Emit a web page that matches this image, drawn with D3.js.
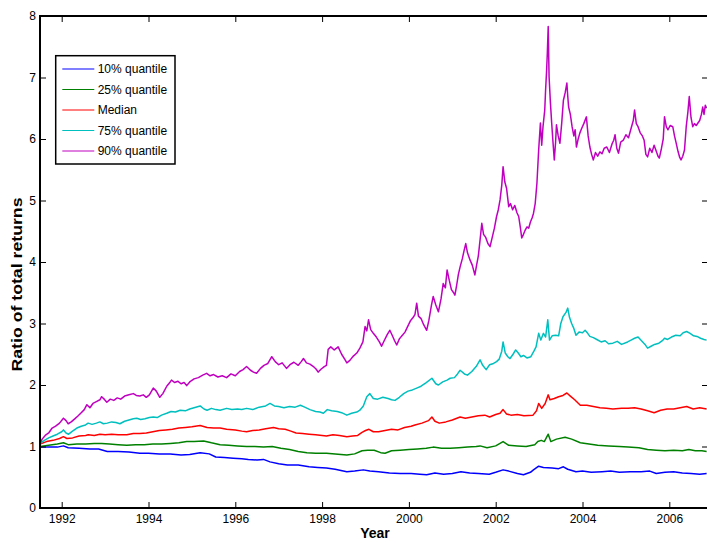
<!DOCTYPE html>
<html><head><meta charset="utf-8">
<script src="https://cdn.jsdelivr.net/npm/d3@7"></script>
<style>
html,body{margin:0;padding:0;background:#fff;}
svg{display:block;font-family:"Liberation Sans",Arial,Helvetica,sans-serif;}
</style></head>
<body>
<svg id="chart" width="707" height="543"></svg>
<script>
const seriesNames = ["10% quantile","25% quantile","Median","75% quantile","90% quantile"];
const seriesColors = ["#0000ff","#008000","#ff0000","#00bfbf","#bf00bf"];
const xTicks = [1992,1994,1996,1998,2000,2002,2004,2006];
const yTicks = [0,1,2,3,4,5,6,7,8];

const q10 = [[1991.50,0.99],[1991.70,0.99],[1991.90,0.99],[1992.04,1.01],[1992.15,0.98],[1992.40,0.97],[1992.65,0.96],[1992.85,0.96],[1992.95,0.94],[1993.05,0.92],[1993.30,0.92],[1993.55,0.91],[1993.80,0.89],[1994.00,0.89],[1994.25,0.88],[1994.50,0.88],[1994.75,0.86],[1994.95,0.87],[1995.19,0.90],[1995.40,0.88],[1995.55,0.83],[1995.75,0.82],[1995.95,0.81],[1996.15,0.80],[1996.30,0.79],[1996.50,0.78],[1996.65,0.79],[1996.80,0.75],[1997.00,0.72],[1997.20,0.70],[1997.45,0.70],[1997.70,0.67],[1997.90,0.66],[1998.10,0.65],[1998.30,0.63],[1998.57,0.59],[1998.75,0.60],[1998.95,0.62],[1999.10,0.60],[1999.30,0.59],[1999.55,0.57],[1999.80,0.56],[2000.05,0.56],[2000.25,0.55],[2000.41,0.54],[2000.60,0.57],[2000.80,0.55],[2001.00,0.56],[2001.20,0.59],[2001.40,0.57],[2001.60,0.56],[2001.85,0.55],[2002.00,0.58],[2002.17,0.62],[2002.30,0.60],[2002.50,0.56],[2002.64,0.54],[2002.80,0.58],[2002.87,0.62],[2002.99,0.68],[2003.10,0.66],[2003.30,0.65],[2003.45,0.64],[2003.56,0.67],[2003.66,0.63],[2003.85,0.59],[2004.00,0.60],[2004.20,0.58],[2004.45,0.59],[2004.65,0.60],[2004.85,0.58],[2005.10,0.59],[2005.35,0.59],[2005.55,0.60],[2005.70,0.56],[2005.90,0.58],[2006.10,0.59],[2006.30,0.57],[2006.50,0.56],[2006.70,0.55],[2006.86,0.56]];

const q25 = [[1991.50,1.00],[1991.70,1.02],[1991.90,1.04],[1992.04,1.06],[1992.15,1.03],[1992.35,1.04],[1992.55,1.04],[1992.75,1.05],[1992.92,1.05],[1993.10,1.04],[1993.30,1.03],[1993.50,1.02],[1993.70,1.03],[1993.90,1.03],[1994.10,1.04],[1994.30,1.04],[1994.50,1.05],[1994.70,1.06],[1994.88,1.08],[1995.05,1.08],[1995.27,1.09],[1995.45,1.06],[1995.65,1.03],[1995.85,1.02],[1996.05,1.01],[1996.26,1.00],[1996.45,1.00],[1996.65,0.99],[1996.85,1.00],[1997.05,0.97],[1997.25,0.95],[1997.45,0.92],[1997.65,0.90],[1997.85,0.89],[1998.10,0.89],[1998.30,0.88],[1998.57,0.86],[1998.75,0.88],[1998.92,0.93],[1999.05,0.94],[1999.20,0.94],[1999.35,0.90],[1999.45,0.89],[1999.60,0.93],[1999.80,0.94],[2000.00,0.95],[2000.20,0.96],[2000.40,0.97],[2000.56,0.99],[2000.75,0.97],[2000.95,0.97],[2001.15,0.98],[2001.35,0.99],[2001.55,1.00],[2001.64,1.01],[2001.80,0.98],[2002.00,1.01],[2002.17,1.08],[2002.30,1.02],[2002.50,1.01],[2002.70,1.00],[2002.90,1.03],[2002.97,1.08],[2003.05,1.10],[2003.12,1.08],[2003.21,1.20],[2003.27,1.08],[2003.40,1.12],[2003.60,1.15],[2003.75,1.12],[2003.95,1.06],[2004.15,1.04],[2004.35,1.02],[2004.60,1.01],[2004.85,1.00],[2005.05,0.99],[2005.30,0.98],[2005.50,0.95],[2005.70,0.94],[2005.90,0.93],[2006.10,0.94],[2006.30,0.93],[2006.45,0.95],[2006.60,0.93],[2006.75,0.93],[2006.86,0.92]];

const q50 = [[1991.50,1.04],[1991.65,1.08],[1991.80,1.10],[1991.95,1.13],[1992.04,1.16],[1992.12,1.13],[1992.25,1.14],[1992.40,1.17],[1992.55,1.18],[1992.61,1.19],[1992.75,1.18],[1992.88,1.20],[1993.00,1.19],[1993.15,1.20],[1993.30,1.19],[1993.50,1.19],[1993.65,1.21],[1993.80,1.21],[1993.95,1.22],[1994.10,1.24],[1994.25,1.26],[1994.40,1.27],[1994.55,1.28],[1994.70,1.30],[1994.85,1.31],[1995.00,1.32],[1995.19,1.34],[1995.35,1.31],[1995.50,1.30],[1995.65,1.30],[1995.80,1.28],[1996.00,1.27],[1996.15,1.25],[1996.26,1.24],[1996.40,1.26],[1996.55,1.27],[1996.70,1.29],[1996.88,1.31],[1997.00,1.29],[1997.15,1.28],[1997.28,1.25],[1997.40,1.22],[1997.55,1.21],[1997.70,1.20],[1997.85,1.19],[1998.00,1.18],[1998.10,1.17],[1998.25,1.19],[1998.40,1.18],[1998.57,1.16],[1998.70,1.17],[1998.82,1.18],[1998.92,1.23],[1999.00,1.26],[1999.08,1.28],[1999.18,1.24],[1999.30,1.24],[1999.45,1.26],[1999.60,1.28],[1999.75,1.27],[1999.90,1.31],[2000.05,1.33],[2000.14,1.35],[2000.30,1.38],[2000.45,1.42],[2000.53,1.48],[2000.60,1.41],[2000.70,1.38],[2000.85,1.40],[2001.00,1.43],[2001.18,1.48],[2001.30,1.46],[2001.45,1.48],[2001.60,1.50],[2001.75,1.51],[2001.86,1.48],[2002.00,1.52],[2002.10,1.54],[2002.17,1.60],[2002.25,1.53],[2002.35,1.51],[2002.50,1.52],[2002.65,1.50],[2002.86,1.51],[2002.94,1.58],[2002.99,1.70],[2003.06,1.62],[2003.14,1.70],[2003.21,1.84],[2003.25,1.76],[2003.35,1.78],[2003.45,1.81],[2003.55,1.83],[2003.64,1.87],[2003.72,1.82],[2003.82,1.76],[2003.95,1.67],[2004.10,1.67],[2004.25,1.65],[2004.40,1.63],[2004.55,1.62],[2004.70,1.61],[2004.90,1.62],[2005.05,1.62],[2005.20,1.63],[2005.35,1.61],[2005.50,1.58],[2005.65,1.55],[2005.80,1.59],[2005.95,1.61],[2006.10,1.61],[2006.25,1.63],[2006.40,1.65],[2006.55,1.61],[2006.70,1.63],[2006.86,1.61]];

const q75 = [[1991.50,1.05],[1991.60,1.10],[1991.70,1.14],[1991.80,1.17],[1991.90,1.20],[1992.00,1.24],[1992.04,1.27],[1992.10,1.22],[1992.16,1.20],[1992.25,1.25],[1992.35,1.30],[1992.45,1.33],[1992.55,1.35],[1992.61,1.38],[1992.70,1.36],[1992.80,1.38],[1992.88,1.40],[1992.96,1.37],[1993.05,1.38],[1993.15,1.40],[1993.25,1.39],[1993.34,1.37],[1993.45,1.41],[1993.55,1.43],[1993.65,1.45],[1993.73,1.46],[1993.82,1.44],[1993.92,1.45],[1994.02,1.47],[1994.11,1.48],[1994.20,1.47],[1994.30,1.51],[1994.42,1.54],[1994.52,1.57],[1994.62,1.56],[1994.73,1.59],[1994.85,1.58],[1994.95,1.61],[1995.05,1.63],[1995.19,1.66],[1995.28,1.61],[1995.35,1.59],[1995.45,1.62],[1995.55,1.60],[1995.65,1.59],[1995.80,1.62],[1995.92,1.60],[1996.05,1.61],[1996.15,1.60],[1996.26,1.62],[1996.40,1.60],[1996.55,1.64],[1996.70,1.66],[1996.80,1.70],[1996.90,1.66],[1997.00,1.65],[1997.12,1.63],[1997.25,1.65],[1997.38,1.64],[1997.50,1.67],[1997.60,1.64],[1997.72,1.60],[1997.85,1.57],[1997.95,1.56],[1998.03,1.54],[1998.12,1.60],[1998.22,1.58],[1998.35,1.57],[1998.45,1.55],[1998.57,1.51],[1998.68,1.54],[1998.80,1.56],[1998.87,1.59],[1998.95,1.66],[1999.03,1.81],[1999.10,1.86],[1999.18,1.78],[1999.28,1.77],[1999.40,1.80],[1999.52,1.78],[1999.60,1.76],[1999.68,1.75],[1999.78,1.80],[1999.88,1.86],[1999.98,1.90],[2000.08,1.92],[2000.18,1.95],[2000.28,1.98],[2000.40,2.04],[2000.53,2.11],[2000.62,2.02],[2000.68,2.00],[2000.78,2.05],[2000.88,2.08],[2000.95,2.11],[2001.05,2.12],[2001.12,2.18],[2001.18,2.24],[2001.28,2.18],[2001.35,2.16],[2001.45,2.22],[2001.55,2.30],[2001.64,2.41],[2001.70,2.32],[2001.78,2.25],[2001.86,2.33],[2001.95,2.35],[2002.02,2.38],[2002.08,2.42],[2002.14,2.55],[2002.17,2.70],[2002.22,2.52],[2002.28,2.46],[2002.33,2.43],[2002.40,2.50],[2002.46,2.57],[2002.52,2.52],[2002.58,2.46],[2002.64,2.48],[2002.72,2.44],[2002.81,2.46],[2002.88,2.55],[2002.93,2.62],[2002.99,2.84],[2003.04,2.73],[2003.10,2.84],[2003.15,2.78],[2003.20,3.06],[2003.24,2.73],[2003.30,2.80],[2003.38,2.81],[2003.45,2.80],[2003.50,3.00],[2003.55,3.11],[2003.62,3.18],[2003.66,3.25],[2003.70,3.10],[2003.75,3.00],[2003.80,2.92],[2003.85,2.81],[2003.92,2.86],[2004.00,2.85],[2004.06,2.89],[2004.12,2.84],[2004.17,2.79],[2004.25,2.77],[2004.33,2.74],[2004.43,2.70],[2004.52,2.72],[2004.60,2.67],[2004.70,2.68],[2004.80,2.71],[2004.90,2.66],[2005.04,2.70],[2005.12,2.73],[2005.20,2.76],[2005.28,2.78],[2005.36,2.72],[2005.44,2.66],[2005.50,2.60],[2005.58,2.63],[2005.66,2.66],[2005.76,2.68],[2005.84,2.72],[2005.89,2.76],[2005.96,2.74],[2006.05,2.78],[2006.15,2.81],[2006.25,2.80],[2006.32,2.85],[2006.40,2.87],[2006.48,2.84],[2006.56,2.80],[2006.64,2.79],[2006.72,2.76],[2006.80,2.74],[2006.86,2.73]];

const q90 = [[1991.50,1.05],[1991.55,1.12],[1991.62,1.18],[1991.70,1.22],[1991.78,1.30],[1991.86,1.33],[1991.95,1.38],[1992.04,1.46],[1992.10,1.42],[1992.15,1.37],[1992.22,1.40],[1992.30,1.45],[1992.38,1.50],[1992.45,1.55],[1992.52,1.60],[1992.58,1.68],[1992.65,1.63],[1992.72,1.70],[1992.80,1.73],[1992.88,1.76],[1992.92,1.81],[1992.98,1.77],[1993.04,1.72],[1993.12,1.77],[1993.20,1.75],[1993.28,1.79],[1993.36,1.77],[1993.45,1.82],[1993.55,1.84],[1993.65,1.86],[1993.72,1.83],[1993.80,1.82],[1993.88,1.84],[1993.95,1.80],[1994.02,1.84],[1994.11,1.95],[1994.18,1.90],[1994.26,1.80],[1994.33,1.86],[1994.42,1.98],[1994.50,2.05],[1994.53,2.08],[1994.60,2.04],[1994.68,2.06],[1994.75,2.02],[1994.82,2.04],[1994.88,1.99],[1994.95,2.05],[1995.05,2.10],[1995.15,2.12],[1995.25,2.16],[1995.34,2.19],[1995.42,2.15],[1995.50,2.17],[1995.60,2.13],[1995.70,2.15],[1995.80,2.12],[1995.90,2.18],[1996.00,2.15],[1996.10,2.22],[1996.18,2.25],[1996.26,2.30],[1996.35,2.24],[1996.42,2.21],[1996.49,2.19],[1996.58,2.27],[1996.66,2.32],[1996.75,2.35],[1996.84,2.46],[1996.92,2.38],[1997.00,2.33],[1997.08,2.36],[1997.18,2.27],[1997.26,2.33],[1997.35,2.37],[1997.45,2.32],[1997.52,2.38],[1997.57,2.43],[1997.64,2.36],[1997.72,2.34],[1997.80,2.30],[1997.86,2.26],[1997.91,2.21],[1997.98,2.26],[1998.05,2.30],[1998.10,2.32],[1998.14,2.58],[1998.20,2.62],[1998.28,2.57],[1998.37,2.62],[1998.45,2.50],[1998.52,2.42],[1998.57,2.36],[1998.64,2.40],[1998.72,2.47],[1998.80,2.52],[1998.87,2.60],[1998.94,2.70],[1998.99,2.95],[1999.03,2.88],[1999.07,3.06],[1999.12,2.90],[1999.18,2.84],[1999.25,2.78],[1999.32,2.70],[1999.37,2.63],[1999.43,2.72],[1999.50,2.82],[1999.56,2.89],[1999.62,2.80],[1999.67,2.72],[1999.72,2.65],[1999.78,2.75],[1999.84,2.80],[1999.91,2.86],[1999.97,2.95],[2000.04,3.05],[2000.10,3.10],[2000.14,3.15],[2000.18,3.33],[2000.22,3.12],[2000.28,3.08],[2000.34,2.98],[2000.41,2.89],[2000.46,3.05],[2000.52,3.30],[2000.56,3.44],[2000.62,3.30],[2000.68,3.19],[2000.74,3.40],[2000.79,3.65],[2000.84,3.58],[2000.88,3.87],[2000.93,3.70],[2000.98,3.55],[2001.03,3.50],[2001.06,3.46],[2001.10,3.62],[2001.14,3.80],[2001.18,3.92],[2001.23,4.05],[2001.27,4.18],[2001.31,4.30],[2001.35,4.15],[2001.41,4.03],[2001.46,3.95],[2001.52,3.79],[2001.56,3.95],[2001.60,4.10],[2001.64,4.36],[2001.68,4.63],[2001.72,4.45],[2001.77,4.40],[2001.82,4.30],[2001.87,4.25],[2001.92,4.40],[2001.97,4.55],[2002.02,4.74],[2002.06,4.85],[2002.10,5.01],[2002.14,5.25],[2002.17,5.55],[2002.21,5.30],[2002.25,5.20],[2002.30,4.90],[2002.34,4.95],[2002.39,4.85],[2002.44,4.92],[2002.49,4.80],[2002.53,4.74],[2002.57,4.55],[2002.60,4.39],[2002.64,4.45],[2002.68,4.52],[2002.72,4.57],[2002.76,4.55],[2002.80,4.65],[2002.84,4.72],[2002.87,4.79],[2002.91,4.95],[2002.95,5.28],[2002.99,5.82],[2003.03,6.26],[2003.06,5.90],[2003.09,6.20],[2003.13,6.47],[2003.15,6.80],[2003.17,7.07],[2003.19,7.40],[2003.21,7.83],[2003.23,7.01],[2003.26,6.60],[2003.29,6.26],[2003.32,5.95],[2003.35,5.66],[2003.38,5.95],[2003.40,6.23],[2003.44,6.05],[2003.48,5.93],[2003.52,6.25],[2003.56,6.63],[2003.60,6.75],[2003.64,6.91],[2003.66,6.70],[2003.68,6.52],[2003.72,6.40],[2003.76,6.20],[2003.80,6.05],[2003.83,6.15],[2003.86,5.87],[2003.90,6.00],[2003.94,6.10],[2003.98,6.17],[2004.03,6.25],[2004.09,6.36],[2004.13,6.05],[2004.17,5.87],[2004.21,5.75],[2004.25,5.66],[2004.30,5.78],[2004.35,5.72],[2004.40,5.79],[2004.45,5.76],[2004.50,5.85],[2004.56,5.87],[2004.62,5.78],[2004.68,5.92],[2004.72,5.98],[2004.75,6.07],[2004.79,5.85],[2004.83,5.77],[2004.88,5.95],[2004.94,5.98],[2005.00,6.07],[2005.06,6.02],[2005.13,6.20],[2005.17,6.30],[2005.20,6.47],[2005.24,6.25],[2005.28,6.20],[2005.33,6.10],[2005.38,6.05],[2005.42,5.98],[2005.46,5.75],[2005.50,5.71],[2005.55,5.85],[2005.60,5.78],[2005.65,5.90],[2005.70,5.80],[2005.74,5.72],[2005.77,5.69],[2005.82,5.85],[2005.86,6.00],[2005.89,6.36],[2005.93,6.20],[2005.97,6.15],[2006.02,6.22],[2006.08,6.20],[2006.12,6.05],[2006.16,5.93],[2006.20,5.80],[2006.24,5.70],[2006.27,5.66],[2006.31,5.72],[2006.35,5.82],[2006.39,6.20],[2006.43,6.45],[2006.46,6.69],[2006.50,6.35],[2006.54,6.20],[2006.58,6.25],[2006.62,6.22],[2006.66,6.26],[2006.70,6.30],[2006.74,6.40],[2006.77,6.52],[2006.80,6.40],[2006.83,6.55],[2006.86,6.50]];

const allSeries = [q10, q25, q50, q75, q90];

const svg = d3.select("#chart");
const L = 40, R = 708, T = 16, B = 508;
const x = d3.scaleLinear().domain([1991.5, 1991.5 + (R - L) / 43.4]).range([L, R]);
const y = d3.scaleLinear().domain([0, 8]).range([B, T]);

svg.append("defs").append("clipPath").attr("id","clip")
  .append("rect").attr("x",L).attr("y",T).attr("width",R-L).attr("height",B-T);

const line = d3.line().x(d => x(d[0])).y(d => y(d[1]));
const plot = svg.append("g").attr("clip-path","url(#clip)");
allSeries.forEach((s, i) => {
  plot.append("path").datum(s).attr("d", line)
    .attr("fill","none").attr("stroke", seriesColors[i])
    .attr("stroke-width", 1.5).attr("stroke-linejoin","round");
});

const fontF = '"Liberation Sans",Arial,Helvetica,sans-serif';
function styleAxis(g){
  g.selectAll(".tick line").attr("stroke","#000").attr("stroke-width",1);
  g.selectAll(".tick text").attr("font-size",12).attr("font-family",fontF).attr("fill","#000");
  g.select(".domain").remove();
}
svg.append("g").attr("transform",`translate(0,${B})`)
  .call(d3.axisBottom(x).tickValues(xTicks).tickFormat(d3.format("d")).tickSize(-6).tickPadding(6))
  .call(styleAxis);
svg.append("g").attr("transform",`translate(0,${T})`)
  .call(d3.axisTop(x).tickValues(xTicks).tickFormat("").tickSize(-6))
  .call(styleAxis);
svg.append("g").attr("transform",`translate(${L},0)`)
  .call(d3.axisLeft(y).tickValues(yTicks).tickFormat(d3.format("d")).tickSize(-6).tickPadding(4))
  .call(styleAxis);
svg.append("g").attr("transform",`translate(${R},0)`)
  .call(d3.axisRight(y).tickValues(yTicks).tickFormat("").tickSize(-6))
  .call(styleAxis);

svg.append("rect").attr("x",L).attr("y",T).attr("width",R-L).attr("height",B-T)
  .attr("fill","none").attr("stroke","#000").attr("stroke-width",2);

// Axis labels
svg.append("text").attr("x",375).attr("y",538).attr("text-anchor","middle")
  .attr("font-size",14).attr("font-weight","bold").attr("font-family",fontF).text("Year");
svg.append("text").attr("transform","translate(22,284.5) rotate(-90)").attr("text-anchor","middle")
  .attr("font-size",15).attr("font-weight","bold").attr("font-family",fontF)
  .attr("textLength",174).attr("lengthAdjust","spacingAndGlyphs").text("Ratio of total returns");

// Legend
const lg = svg.append("g");
lg.append("rect").attr("x",55.7).attr("y",55.7).attr("width",119.3).attr("height",108.3)
  .attr("fill","#fff").attr("stroke","#000").attr("stroke-width",1.5);
const rowY = d3.scaleLinear().domain([0,4]).range([69,151]);
seriesNames.forEach((n,i) => {
  lg.append("line").attr("x1",62.3).attr("x2",94.3).attr("y1",rowY(i)).attr("y2",rowY(i))
    .attr("stroke",seriesColors[i]).attr("stroke-width",1);
  lg.append("text").attr("x",97.7).attr("y",rowY(i)+4.3).attr("font-size",12)
    .attr("font-family",fontF).text(n);
});
</script>
</body></html>
